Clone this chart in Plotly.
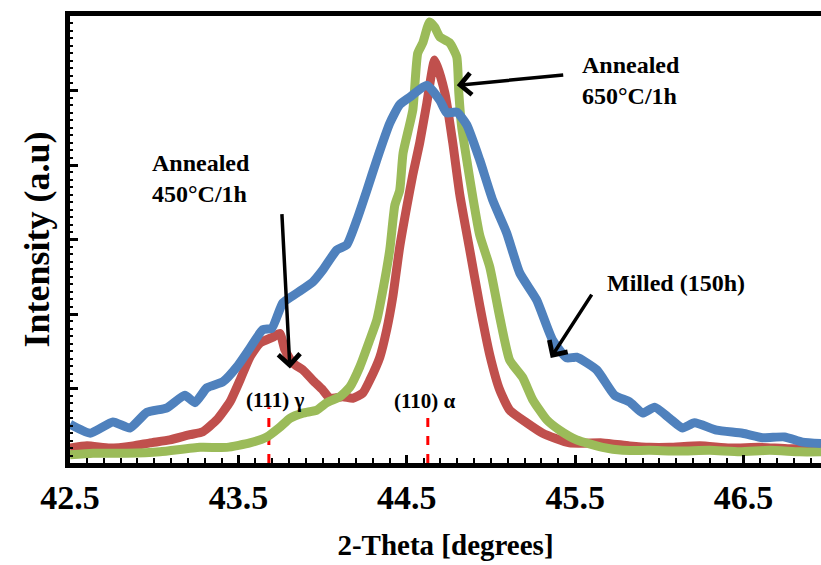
import plotly.graph_objects as go

# ---------------- data ----------------
milled_x = [42.50, 42.62, 42.755, 42.856, 42.957, 43.076, 43.182, 43.242, 43.313, 43.408,
            43.491, 43.568, 43.645, 43.699, 43.764, 43.847, 43.942, 44.001, 44.085, 44.144,
            44.203, 44.263, 44.322, 44.399, 44.458, 44.518, 44.619, 44.696, 44.737, 44.797,
            44.856, 44.933, 45.010, 45.093, 45.171, 45.271, 45.366, 45.450, 45.509, 45.628,
            45.734, 45.823, 45.901, 45.972, 46.061, 46.138, 46.209, 46.340, 46.494, 46.613,
            46.743, 46.850, 46.96]
milled_y = [52, 40, 55, 47, 68, 74, 91, 81, 101, 109,
            129, 154, 179, 181, 215, 228, 243, 259, 286, 293,
            326, 366, 407, 456, 481, 491, 507, 487, 470, 471,
            454, 407, 353, 309, 255, 219, 165, 141, 142, 125,
            91, 82, 67, 75, 60, 47, 54, 44, 40, 34,
            35, 28, 26]

ann450_x = [42.50, 42.601, 42.737, 42.874, 42.975, 43.093, 43.212, 43.289, 43.372, 43.450,
            43.509, 43.568, 43.628, 43.705, 43.746, 43.776, 43.823, 43.883, 43.942, 44.001,
            44.043, 44.120, 44.180, 44.239, 44.280, 44.340, 44.381, 44.417, 44.458, 44.500,
            44.536, 44.577, 44.619, 44.666, 44.726, 44.773, 44.815, 44.874, 44.933, 44.993,
            45.052, 45.111, 45.212, 45.307, 45.467, 45.663, 45.823, 45.942, 46.061, 46.240,
            46.418, 46.596, 46.774, 46.96]
ann450_y = [20, 23, 20, 23, 27, 31, 38, 42, 58, 82,
            111, 142, 161, 169, 174, 152, 134, 125, 111, 98,
            87, 89, 87, 94, 111, 142, 179, 223, 290, 344,
            387, 430, 483, 541, 497, 430, 360, 286, 212, 145,
            98, 71, 54, 40, 27, 27, 23, 21, 21, 23,
            20, 21, 19, 20]

ann650_x = [42.50, 42.636, 42.838, 43.034, 43.272, 43.432, 43.568, 43.669, 43.746, 43.806,
            43.883, 43.966, 44.025, 44.102, 44.162, 44.221, 44.280, 44.322, 44.358, 44.399,
            44.429, 44.458, 44.478, 44.536, 44.565, 44.595, 44.636, 44.666, 44.696, 44.755,
            44.797, 44.809, 44.826, 44.856, 44.892, 44.933, 44.993, 45.052, 45.111, 45.188,
            45.248, 45.331, 45.408, 45.509, 45.663, 45.782, 45.942, 46.120, 46.299, 46.477,
            46.655, 46.833, 46.96]
ann650_y = [11, 13, 13, 15, 21, 21, 27, 35, 48, 60,
            67, 71, 81, 89, 102, 129, 165, 192, 232, 286,
            346, 366, 416, 474, 550, 564, 592, 585, 572, 564,
            545, 497, 451, 407, 357, 306, 263, 196, 138, 115,
            85, 58, 44, 31, 21, 17, 17, 16, 17, 15,
            17, 15, 15]

peak_labels = ["(111) γ", "(110) α"]
peak_pos = [43.681, 44.625]
peak_marker_top = [75, 62]
peak_label_xy = [(43.717, 85), (44.607, 83)]

x_tick_vals = [42.5, 43.5, 44.5, 45.5, 46.5]
x_tick_text = ["42.5", "43.5", "44.5", "45.5", "46.5"]

# ---------------- styling ----------------
SERIF = "Liberation Serif, Times New Roman, serif"
BLUE = "#4F81BD"
RED = "#C0504D"
GREEN = "#9BBB59"

fig = go.Figure()

# dashed red reference lines
for p, top in zip(peak_pos, peak_marker_top):
    fig.add_trace(go.Scatter(x=[p, p], y=[0, top], mode="lines",
                             line=dict(color="#FF0000", width=3, dash="dash"),
                             hoverinfo="skip", showlegend=False))

fig.add_trace(go.Scatter(x=ann450_x, y=ann450_y, mode="lines", name="Annealed 450°C/1h",
                         line=dict(color=RED, width=9, shape="spline", smoothing=0.5)))
fig.add_trace(go.Scatter(x=ann650_x, y=ann650_y, mode="lines", name="Annealed 650°C/1h",
                         line=dict(color=GREEN, width=9, shape="spline", smoothing=0.5)))
fig.add_trace(go.Scatter(x=milled_x, y=milled_y, mode="lines", name="Milled (150h)",
                         line=dict(color=BLUE, width=9, shape="spline", smoothing=0.5)))

ann_font = dict(family=SERIF, size=24, color="black", weight="bold")

annotations = [
    dict(x=42.975, y=382, text="Annealed<br>450°C/1h", showarrow=False,
         xanchor="left", yanchor="middle", align="left", font=ann_font),
    dict(x=45.527, y=513, text="Annealed<br>650°C/1h", showarrow=False,
         xanchor="left", yanchor="middle", align="left", font=ann_font),
    dict(x=45.675, y=242, text="Milled (150h)", showarrow=False,
         xanchor="left", yanchor="middle", align="left", font=ann_font),
    # arrows
    dict(x=43.806, y=127, ax=43.758, ay=336, xref="x", yref="y", axref="x", ayref="y",
         text="", showarrow=True, arrowhead=4, arrowsize=1.2, arrowwidth=3.5, arrowcolor="black"),
    dict(x=44.797, y=507, ax=45.438, ay=521, xref="x", yref="y", axref="x", ayref="y",
         text="", showarrow=True, arrowhead=4, arrowsize=1.2, arrowwidth=3.5, arrowcolor="black"),
    dict(x=45.355, y=141, ax=45.604, ay=228, xref="x", yref="y", axref="x", ayref="y",
         text="", showarrow=True, arrowhead=4, arrowsize=1.2, arrowwidth=3.5, arrowcolor="black"),
]
for lab, (lx, ly) in zip(peak_labels, peak_label_xy):
    annotations.append(dict(x=lx, y=ly, text=lab, showarrow=False, xanchor="center",
                            yanchor="middle",
                            font=dict(family=SERIF, size=21, color="black", weight="bold")))

fig.update_layout(
    width=821, height=565,
    margin=dict(l=70, r=0, t=16, b=102),
    paper_bgcolor="white", plot_bgcolor="white",
    showlegend=False,
    annotations=annotations,
    xaxis=dict(
        range=[42.5, 46.96], showgrid=False, zeroline=False,
        showline=True, linecolor="black", linewidth=4.5, mirror=True,
        tickvals=x_tick_vals, ticktext=x_tick_text,
        ticks="inside", ticklen=8, tickwidth=2.5, tickcolor="black",
        minor=dict(ticks="inside", ticklen=5, tickwidth=2, tickcolor="black",
                   dtick=0.1, tick0=42.5, showgrid=False),
        tickfont=dict(family=SERIF, size=34, color="black", weight="bold"),
        title=dict(text="2-Theta [degrees]",
                   font=dict(family=SERIF, size=29, color="black", weight="bold"),
                   standoff=22),
    ),
    yaxis=dict(
        range=[0, 600], showgrid=False, zeroline=False,
        showline=True, linecolor="black", linewidth=4.5,
        dtick=100, showticklabels=False,
        ticks="inside", ticklen=8, tickwidth=2.5, tickcolor="black",
        minor=dict(ticks="inside", ticklen=3, tickwidth=2, tickcolor="black",
                   dtick=10, showgrid=False),
        title=dict(text="Intensity (a.u)",
                   font=dict(family=SERIF, size=36, color="black", weight="bold"),
                   standoff=6),
    ),
)

fig.write_html("out.html")
